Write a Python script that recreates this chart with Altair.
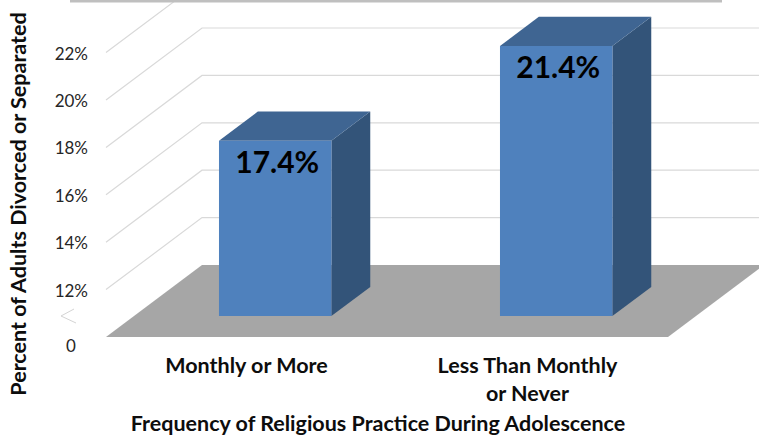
import altair as alt
import pandas as pd

# Chart values
categories = ["Monthly or More", "Less Than Monthly"]
category_second_lines = ["", "or Never"]
percent_values = [17.4, 21.4]
value_labels = ["17.4%", "21.4%"]
tick_values = [12, 14, 16, 18, 20, 22]
tick_labels = ["12%", "14%", "16%", "18%", "20%", "22%"]
axis_floor = 10          # the broken axis starts here and is labelled 0
axis_floor_label = "0"

# Oblique projection: x in category units, y in percent units.
BAR_WIDTH = 0.4
BAR_CENTER = 0.503
BAR_DEPTH_FRONT = 0.29
BAR_DEPTH_BACK = 0.695
N_CATS = len(categories)
DEPTH_X = 96 / 281       # sideways shift of the full depth, category units
DEPTH_Y = 72 / 23.7      # upward shift of the full depth, percent units

x_scale = alt.Scale(domain=[-106 / 281, 653 / 281], nice=False, zero=False)
y_scale = alt.Scale(domain=[10 - 98 / 23.7, 10 + 337 / 23.7], nice=False, zero=False)


def project(u, d, v):
    return {"px": u + d * DEPTH_X, "py": v + d * DEPTH_Y}


def enc(**kw):
    """Position encodings on the shared projected scales, no axes."""
    out = {}
    for key, field in kw.items():
        cls = {"x": alt.X, "y": alt.Y, "x2": alt.X2, "y2": alt.Y2}[key]
        if key in ("x2", "y2"):
            out[key] = cls(field)
        else:
            scale = x_scale if key == "x" else y_scale
            out[key] = cls(field, type="quantitative", scale=scale, axis=None)
    return out


def band(u0, u1, v0, v1, d0, d1, color):
    """Parallelogram lying flat between depths d0 and d1."""
    rows = []
    for d in (d0, d1):
        a = project(u0, d, v0)
        b = project(u1, d, v1)
        rows.append({"px": a["px"], "px2": b["px"], "py": a["py"]})
    return alt.Chart(pd.DataFrame(rows)).mark_area(
        color=color, orient="horizontal", clip=True
    ).encode(**enc(x="px", x2="px2", y="py"))


def side(u, v0, v1, d0, d1, color):
    """Right-hand face of a column, running back in depth."""
    rows = []
    for d in (d0, d1):
        a = project(u, d, v0)
        b = project(u, d, v1)
        rows.append({"px": a["px"], "py": a["py"], "py2": b["py"]})
    return alt.Chart(pd.DataFrame(rows)).mark_area(
        color=color, orient="vertical", clip=True
    ).encode(**enc(x="px", y="py", y2="py2"))


layers = []

# Grey floor
layers.append(band(0, N_CATS, axis_floor, axis_floor, 0, 1, "#A6A6A6"))

# Gridlines on the side wall and the back wall
grid_rows = []
for t in tick_values:
    s = project(0, 0, t)
    b = project(0, 1, t)
    e = project(N_CATS, 1, t)
    grid_rows += [
        {"tick": t, "order": 0, **s},
        {"tick": t, "order": 1, **b},
        {"tick": t, "order": 2, **e},
    ]
layers.append(
    alt.Chart(pd.DataFrame(grid_rows)).mark_line(
        color="#D9D9D9", strokeWidth=1.2, clip=True
    ).encode(**enc(x="px", y="py"), detail="tick:N", order="order:Q")
)

# Columns: side, top, then front
for i, value in enumerate(percent_values):
    u0 = i + BAR_CENTER - BAR_WIDTH / 2
    u1 = i + BAR_CENTER + BAR_WIDTH / 2
    layers.append(side(u1, axis_floor, value, BAR_DEPTH_FRONT, BAR_DEPTH_BACK, "#335479"))
    layers.append(band(u0, u1, value, value, BAR_DEPTH_FRONT, BAR_DEPTH_BACK, "#3F6592"))
    front = pd.DataFrame([
        {**project(u0, BAR_DEPTH_FRONT, axis_floor), "py2": project(u0, BAR_DEPTH_FRONT, value)["py"]},
        {**project(u1, BAR_DEPTH_FRONT, axis_floor), "py2": project(u1, BAR_DEPTH_FRONT, value)["py"]},
    ])
    layers.append(
        alt.Chart(front).mark_area(color="#4F81BD", orient="vertical", clip=True)
        .encode(**enc(x="px", y="py", y2="py2"))
    )

# Value labels on the column fronts
value_rows = []
for i, (value, label) in enumerate(zip(percent_values, value_labels)):
    p = project(i + BAR_CENTER, BAR_DEPTH_FRONT, value)
    value_rows.append({**p, "label": label})
layers.append(
    alt.Chart(pd.DataFrame(value_rows)).mark_text(
        font="Lato", fontSize=30, fontWeight="bold", color="#000000",
        baseline="middle", align="center", dy=23, dx=2
    ).encode(**enc(x="px", y="py"), text="label:N")
)

# Tick labels of the value axis
tick_rows = [{"py": t, "label": l} for t, l in zip(tick_values, tick_labels)]
layers.append(
    alt.Chart(pd.DataFrame(tick_rows)).mark_text(
        font="Lato", fontSize=17, color="#262626", baseline="middle", align="right", dy=2
    ).encode(y=alt.Y("py:Q", scale=y_scale, axis=None), x=alt.value(88), text="label:N")
)
layers.append(
    alt.Chart(pd.DataFrame([{"py": axis_floor, "label": axis_floor_label}])).mark_text(
        font="Lato", fontSize=17, color="#262626", baseline="middle", align="center", dy=10
    ).encode(y=alt.Y("py:Q", scale=y_scale, axis=None), x=alt.value(71), text="label:N")
)

# Axis break glyph
break_x = [74, 61, 76]
break_y = [309, 316, 323]
for a, b in [(0, 1), (1, 2)]:
    layers.append(
        alt.Chart(pd.DataFrame({"k": [0]})).mark_rule(color="#D4D4D4", strokeWidth=1).encode(
            x=alt.value(break_x[a]), x2=alt.value(break_x[b]),
            y=alt.value(break_y[a]), y2=alt.value(break_y[b]),
        )
    )

# Category labels under the floor
cat_rows = []
for i, (first, second) in enumerate(zip(categories, category_second_lines)):
    cat_rows.append({"px": i + 0.5, "line": first, "row": 0})
    if second:
        cat_rows.append({"px": i + 0.5, "line": second, "row": 1})
cats = pd.DataFrame(cat_rows)
for row, dy in [(0, 30), (1, 58)]:
    layers.append(
        alt.Chart(cats[cats.row == row]).transform_calculate(py=str(axis_floor)).mark_text(
            font="Lato", fontSize=21.5, fontWeight="bold", color="#0D0D0D",
            baseline="middle", align="center", dy=dy
        ).encode(**enc(x="px"), y=alt.Y("py:Q", scale=y_scale, axis=None), text="line:N")
    )

# Axis titles
layers.append(
    alt.Chart(pd.DataFrame({"t": ["Frequency of Religious Practice During Adolescence"]})).mark_text(
        font="Lato", fontSize=21.5, fontWeight="bold", color="#0D0D0D", baseline="middle", align="center"
    ).encode(x=alt.value(378), y=alt.value(425), text="t:N")
)
layers.append(
    alt.Chart(pd.DataFrame({"t": ["Percent of Adults Divorced or Separated"]})).mark_text(
        font="Lato", fontSize=21.5, fontWeight="bold", color="#0D0D0D", baseline="middle", align="center", angle=270
    ).encode(x=alt.value(20), y=alt.value(204), text="t:N")
)

# Grey band along the top edge
layers.append(
    alt.Chart(pd.DataFrame({"k": [0]})).mark_rule(color="#BFBFBF", strokeWidth=3).encode(
        x=alt.value(70), x2=alt.value(722), y=alt.value(1)
    )
)

chart = alt.layer(*layers).properties(
    width=759, height=435, padding=0, autosize=alt.AutoSizeParams(type="none"),
    background="#FFFFFF",
).configure_view(stroke=None)

chart.save("out.html", embed_options={"renderer": "svg", "actions": False})
